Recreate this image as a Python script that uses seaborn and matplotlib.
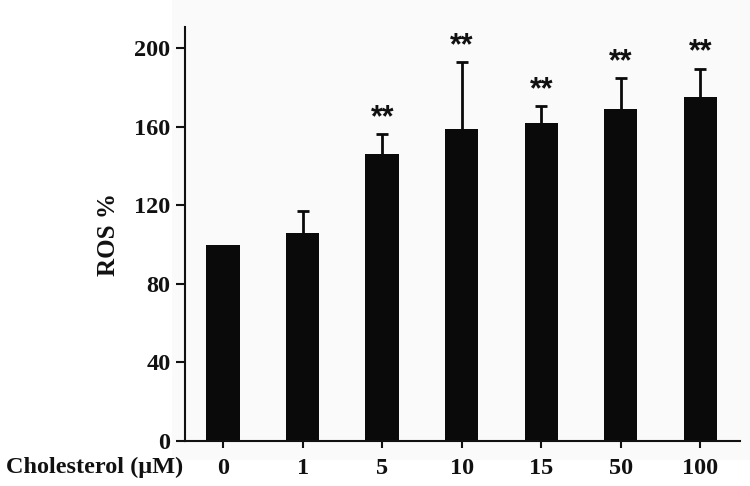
import matplotlib
matplotlib.use("Agg")
import matplotlib.pyplot as plt
import seaborn as sns
import pandas as pd
import numpy as np
from matplotlib.patches import Rectangle

# Data
categories = ["0", "1", "5", "10", "15", "50", "100"]
ros_mean = [100, 106, 146, 159, 162, 169, 175]
ros_sd = [0, 11, 10, 34, 8.5, 15.5, 14.5]
stars = ["", "", "**", "**", "**", "**", "**"]

df = pd.DataFrame({"conc": categories, "ros": ros_mean})

sns.set_theme(style="ticks")
plt.rcParams["font.family"] = ["Liberation Serif", "DejaVu Serif"]
plt.rcParams["font.weight"] = "bold"

fig = plt.figure(figsize=(7.5, 4.86), dpi=100)
fig.patch.set_facecolor("white")
fig.patches.append(Rectangle((172 / 750, 26 / 486), 1, 1, transform=fig.transFigure,
                             facecolor="#fafafa", edgecolor="none", zorder=-10))
ax = fig.add_axes([185 / 750, 45 / 486, 555 / 750, 414 / 486])
ax.set_facecolor("none")

sns.barplot(data=df, x="conc", y="ros", order=categories, color="#0a0a0a",
            width=0.42, errorbar=None, ax=ax, saturation=1, linewidth=0)

xpos = np.arange(len(categories))
mean_arr = np.array(ros_mean, dtype=float)
sd_arr = np.array(ros_sd, dtype=float)
has_err = sd_arr > 0
_, caps, _ = ax.errorbar(xpos[has_err], mean_arr[has_err],
                         yerr=[np.zeros(has_err.sum()), sd_arr[has_err]], fmt="none",
                         ecolor="#0a0a0a", elinewidth=2, capsize=4.5, capthick=2, zorder=1)
caps[0].set_visible(False)

for x, m, s, st in zip(xpos, ros_mean, ros_sd, stars):
    if st:
        ax.text(x, m + s + 0.5, st, ha="center", va="bottom", fontsize=22,
                fontweight="bold", family=["Liberation Sans", "DejaVu Sans"],
                color="#111111")

ax.set_xlim(-0.48, 6.5)
ax.set_ylim(0, 210.7)
ax.set_yticks([0, 40, 80, 120, 160, 200])
ax.set_xlabel("")
ax.set_ylabel("ROS %", fontsize=18, fontweight="bold", labelpad=10, color="#111111")

for side in ["top", "right"]:
    ax.spines[side].set_visible(False)
for side in ["left", "bottom"]:
    ax.spines[side].set_linewidth(1.5)
    ax.spines[side].set_color("#111111")

ax.tick_params(axis="y", length=6.5, width=1.5, pad=4, labelsize=17.5, colors="#111111")
ax.tick_params(axis="x", length=5, width=1.5, pad=7, labelsize=17.5, colors="#111111")
for lab in ax.get_xticklabels() + ax.get_yticklabels():
    lab.set_fontweight("bold")

fig.text(183 / 750, (486 - 467) / 486, "Cholesterol (μM)", ha="right", va="center",
         fontsize=17.5, fontweight="bold", color="#111111")

fig.savefig("out.png", dpi=100)
